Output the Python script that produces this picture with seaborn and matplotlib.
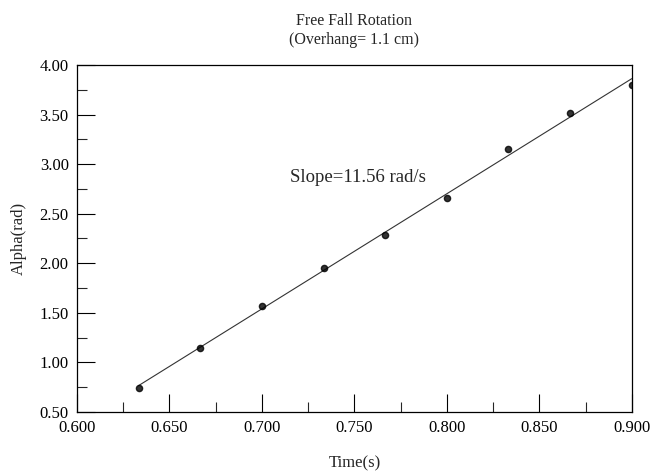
import numpy as np
import pandas as pd
import matplotlib
matplotlib.use("Agg")
import matplotlib.pyplot as plt
from matplotlib.ticker import MultipleLocator, FormatStrFormatter
import seaborn as sns

sns.set_style("ticks")
plt.rcParams['font.family'] = ['Liberation Serif', 'DejaVu Serif']

# data
time_s = [0.6333, 0.6667, 0.7000, 0.7333, 0.7667, 0.8000, 0.8333, 0.8667, 0.9000]
alpha_rad = [0.74, 1.15, 1.57, 1.95, 2.29, 2.66, 3.15, 3.52, 3.80]
slope_label = "Slope=11.56 rad/s"

df = pd.DataFrame({"time": time_s, "alpha": alpha_rad})

fig = plt.figure(figsize=(6.5, 4.71), dpi=100)
ax = fig.add_axes([0.1185, 0.1253, 0.8535, 0.7367])

sns.regplot(data=df, x="time", y="alpha", ax=ax, ci=None,
            scatter_kws=dict(s=20, color="black", zorder=3),
            line_kws=dict(color="#333333", linewidth=0.8))

ax.set_xlim(0.6, 0.9)
ax.set_ylim(0.5, 4.0)
ax.xaxis.set_major_locator(MultipleLocator(0.05))
ax.xaxis.set_minor_locator(MultipleLocator(0.025))
ax.yaxis.set_major_locator(MultipleLocator(0.5))
ax.yaxis.set_minor_locator(MultipleLocator(0.25))
ax.xaxis.set_major_formatter(FormatStrFormatter('%.3f'))
ax.yaxis.set_major_formatter(FormatStrFormatter('%.2f'))
ax.tick_params(which='major', direction='in', length=13, width=0.8, labelsize=12, colors='black', pad=6)
ax.tick_params(which='minor', direction='in', length=7, width=0.8)
for sp in ax.spines.values():
    sp.set_visible(True)
    sp.set_color('black')
    sp.set_linewidth(0.9)

ax.set_xlabel("Time(s)", fontsize=12, labelpad=14)
ax.set_ylabel("Alpha(rad)", fontsize=12, labelpad=9)
ax.set_title("Free Fall Rotation\n(Overhang= 1.1 cm)", fontsize=11.5, pad=15, linespacing=1.3)
ax.text(0.752, 2.87, slope_label, fontsize=13.5, ha='center', va='center')

fig.savefig("out.png", dpi=100)
